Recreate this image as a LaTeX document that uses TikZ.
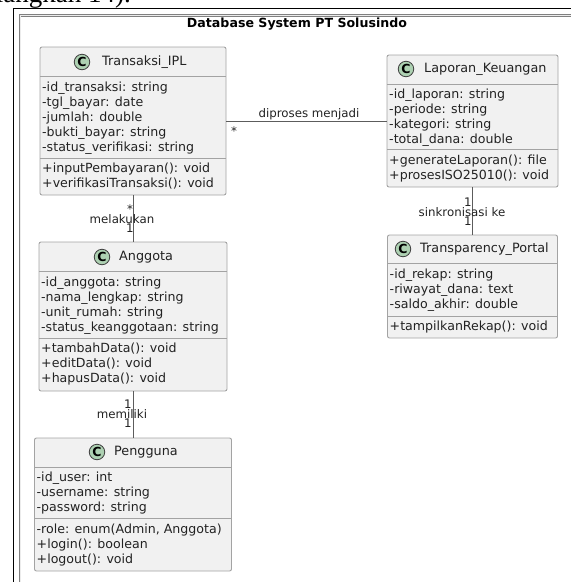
\documentclass[tikz,border=0pt]{standalone}
\usepackage{fontspec}
\usepackage{xcolor}
\usepackage{tikz}
\setmainfont{DejaVu Sans}
\newfontfamily\pagefont{Liberation Serif}
\definecolor{boxfill}{HTML}{F1F1F1}
\definecolor{boxline}{HTML}{A3A3A3}
\definecolor{linkline}{HTML}{5C5C5C}
\definecolor{txt}{HTML}{222222}
\definecolor{badgefill}{HTML}{ADD1B2}

\begin{document}
\begin{tikzpicture}[x=1pt,y=-1pt]
\tikzstyle{every node}+=[inner sep=0pt]
\tikzstyle{classbox}=[draw=boxline, fill=boxfill, rounded corners=2pt, line width=0.9pt]
\tikzstyle{sepline}=[draw=boxline, line width=0.9pt]
\tikzstyle{member}=[anchor=west, text=txt, text height=9.5pt, text depth=3pt, font=\fontsize{12.6}{15}\selectfont]
\tikzstyle{cname}=[member, font=\fontsize{12.8}{15}\selectfont]
\tikzstyle{badge}=[circle, draw=black!75, fill=badgefill, line width=0.8pt, minimum size=15.5pt, font=\bfseries\fontsize{12.5}{12.5}\selectfont]
\tikzstyle{link}=[draw=linkline, line width=0.9pt]
\tikzstyle{rel}=[anchor=base, text=txt, font=\fontsize{11.8}{13}\selectfont]
\useasboundingbox (0,0) rectangle (571,582);
\node[anchor=base east, font=\pagefont\fontsize{27}{27}\selectfont] (pagetext) at (131,2) {langkah 14).};
\draw [black, line width=1pt] (13,590) -- (13,8) -- (580,8);
\draw [gray, line width=0.7pt, double=white!85!gray, double distance=0.9pt] (20,590) -- (20,15.5) -- (580,15.5);
\node[font=\bfseries\fontsize{12.6}{15}\selectfont] (title) at (297,24) {Database System PT Solusindo};
\node[classbox, minimum width=186, minimum height=148] (trx) at (133,121) {};
\draw [sepline] (40,76) -- (226,76);
\draw [sepline] (40,158) -- (226,158);
\node[badge] (trxc) at (82,62) {C};
\node[cname] (trxn) at (102,62) {Transaksi\_IPL};
\node[member] (trxa1) at (42,88) {-id\_transaksi: string};
\node[member] (trxa2) at (42,103) {-tgl\_bayar: date};
\node[member] (trxa3) at (42,118) {-jumlah: double};
\node[member] (trxa4) at (42,133) {-bukti\_bayar: string};
\node[member] (trxa5) at (42,148) {-status\_verifikasi: string};
\node[member] (trxm1) at (42,169) {+inputPembayaran(): void};
\node[member] (trxm2) at (42,184) {+verifikasiTransaksi(): void};
\node[classbox, minimum width=171, minimum height=132] (lap) at (472.5,121) {};
\draw [sepline] (387,84) -- (558,84);
\draw [sepline] (387,149) -- (558,149);
\node[badge] (lapc) at (406,69) {C};
\node[cname] (lapn) at (424,69) {Laporan\_Keuangan};
\node[member] (lapa1) at (389,95) {-id\_laporan: string};
\node[member] (lapa2) at (389,110) {-periode: string};
\node[member] (lapa3) at (389,125) {-kategori: string};
\node[member] (lapa4) at (389,140) {-total\_dana: double};
\node[member] (lapm1) at (389,161) {+generateLaporan(): file};
\node[member] (lapm2) at (389,176) {+prosesISO25010(): void};
\node[classbox, minimum width=188, minimum height=149] (ang) at (133,316.5) {};
\draw [sepline] (39,271) -- (227,271);
\draw [sepline] (39,338) -- (227,338);
\node[badge] (angc) at (102,257) {C};
\node[cname] (angn) at (119,257) {Anggota};
\node[member] (anga1) at (41,283) {-id\_anggota: string};
\node[member] (anga2) at (41,298) {-nama\_lengkap: string};
\node[member] (anga3) at (41,313) {-unit\_rumah: string};
\node[member] (anga4) at (41,328) {-status\_keanggotaan: string};
\node[member] (angm1) at (41,349) {+tambahData(): void};
\node[member] (angm2) at (41,364) {+editData(): void};
\node[member] (angm3) at (41,379) {+hapusData(): void};
\node[classbox, minimum width=197, minimum height=133] (pgn) at (133,504.5) {};
\draw [sepline] (34.5,467) -- (231.5,467);
\draw [sepline] (34.5,518) -- (231.5,518);
\node[badge] (pgnc) at (97,452) {C};
\node[cname] (pgnn) at (114,452) {Pengguna};
\node[member] (pgna1) at (36.5,478) {-id\_user: int};
\node[member] (pgna2) at (36.5,493) {-username: string};
\node[member] (pgna3) at (36.5,508) {-password: string};
\node[member] (pgnm1) at (36.5,530) {-role: enum(Admin, Anggota)};
\node[member] (pgnm2) at (36.5,545) {+login(): boolean};
\node[member] (pgnm3) at (36.5,560) {+logout(): void};
\node[classbox, minimum width=170, minimum height=103] (trp) at (472.5,286.5) {};
\draw [sepline] (387.5,263) -- (557.5,263);
\draw [sepline] (387.5,316) -- (557.5,316);
\node[badge] (trpc) at (403,249) {C};
\node[cname] (trpn) at (420,249) {Transparency\_Portal};
\node[member] (trpa1) at (389.5,275) {-id\_rekap: string};
\node[member] (trpa2) at (389.5,290) {-riwayat\_dana: text};
\node[member] (trpa3) at (389.5,305) {-saldo\_akhir: double};
\node[member] (trpm1) at (389.5,327) {+tampilkanRekap(): void};
\draw [link] (trx.east) -- (lap.west);
\node[rel] (l1) at (309,117) {diproses menjadi};
\node[rel] (l1a) at (234,135) {*};
\draw [link] (trx.south) -- (ang.north);
\node[rel] (l2a) at (130,213) {*};
\node[rel] (l2) at (122,223) {melakukan};
\node[rel] (l2b) at (130,232) {1};
\draw [link] (ang.south) -- (pgn.north);
\node[rel] (l3a) at (128,408) {1};
\node[rel] (l3) at (122,418) {memiliki};
\node[rel] (l3b) at (128,427) {1};
\draw [link] (lap.south) -- (trp.north);
\node[rel] (l4a) at (468,206) {1};
\node[rel] (l4) at (462,216) {sinkronisasi ke};
\node[rel] (l4b) at (468,225) {1};
\end{tikzpicture}
\end{document}
